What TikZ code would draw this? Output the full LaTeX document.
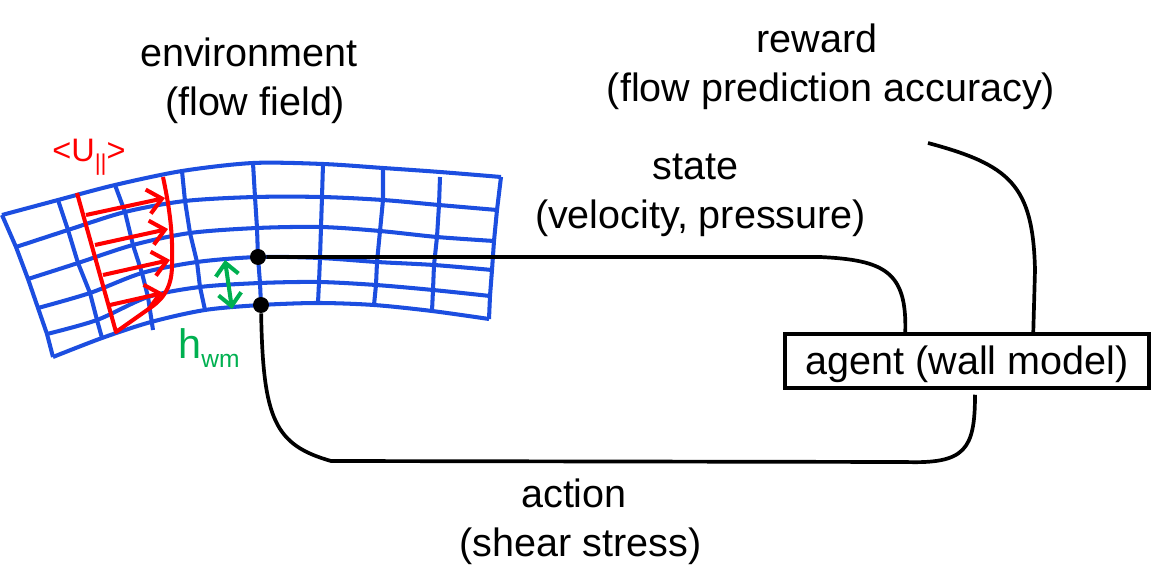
\documentclass[tikz,border=0pt]{standalone}
\usepackage{fontspec}
\setmainfont{Liberation Sans}
\usetikzlibrary{arrows.meta,calc}
\definecolor{gridcol}{RGB}{28,78,224}
\definecolor{profcol}{RGB}{255,0,0}
\definecolor{wmcol}{RGB}{0,176,80}

\begin{document}
\begin{tikzpicture}[
    x=0.02cm, y=-0.02cm,
    lab/.style={font=\fontsize{22.5}{27.8}\selectfont, align=center, inner sep=0pt},
    gridline/.style={draw=gridcol, line width=2.3pt, line join=round},
    profline/.style={draw=profcol, line width=2.3pt, line join=round},
    profarrow/.style={profline, -{Straight Barb[length=8pt,width=14pt,line width=2.3pt]}},
    wmarrow/.style={draw=wmcol, line width=2.3pt, {Straight Barb[length=7pt,width=13pt,line width=2.3pt]}-{Straight Barb[length=7pt,width=13pt,line width=2.3pt]}},
    wire/.style={draw=black, line width=2.1pt},
    agentbox/.style={draw=black, line width=2pt, fill=white, minimum width=7.28cm,
                     minimum height=1.08cm, inner sep=0pt, text height=0.6cm, text depth=0.04cm,
                     font=\fontsize{22.5}{27}\selectfont},
    wdot/.style={circle, fill=black, minimum size=0.32cm, inner sep=0pt},
]
\useasboundingbox (0,0) rectangle (1153,587);

% ---- Grid ----
\draw[gridline] plot[smooth] coordinates {(2,215) (58,200) (115,185) (182,171) (253,163) (323,164) (383,168) (440,172) (501,177)};
\draw[gridline] plot[smooth] coordinates {(16,247) (68,230) (125,212) (185,201) (255,197) (322,197) (383,200) (439,205) (497,210)};
\draw[gridline] plot[smooth] coordinates {(28,279) (78,263) (133,245) (190,233) (257,228) (321,227) (380,231) (437,237) (494,241)};
\draw[gridline] plot[smooth] coordinates {(38,308) (90,293) (142,273) (197,262) (258,257) (320,258) (377,262) (434,265) (492,270)};
\draw[gridline] plot[smooth] coordinates {(47,334) (97,320) (148,297) (200,287) (260,283) (319,282) (376,285) (433,290) (490,296)};
\draw[gridline] plot[smooth] coordinates {(53,357) (102,338) (151,322) (205,310) (261,305) (318,303) (374,305) (432,311) (489,319)};

\draw[gridline] (2,215) -- (16,247) -- (28,279) -- (38,308) -- (47,334) -- (53,357);
\draw[gridline] (58,200) -- (68,230) -- (78,263) -- (90,293) -- (97,320) -- (102,338);
\draw[gridline] (115,185) -- (125,212) -- (133,245) -- (142,273) -- (148,297) -- (153,330);
\draw[gridline] (182,171) -- (185,201) -- (190,233) -- (197,262) -- (200,287) -- (205,310);
\draw[gridline] (253,163) -- (255,197) -- (257,228) -- (258,257) -- (260,283) -- (261,305);
\draw[gridline] (323,164) -- (322,197) -- (321,227) -- (320,258) -- (319,282) -- (318,303);
\draw[gridline] (383,168) -- (383,200) -- (380,231) -- (377,262) -- (376,285) -- (374,305);
\draw[gridline] (440,177) -- (439,205) -- (437,237) -- (434,265) -- (433,290) -- (432,311);
\draw[gridline] (501,177) -- (497,210) -- (494,241) -- (492,270) -- (490,296) -- (489,319);

% ---- Velocity profile ----
\draw[profline] (77,193) -- (116,332) -- (150,308) .. controls (165,298) and (172,285) .. (172,265)
  .. controls (173,235) and (170,210) .. (163,177);
\draw[profarrow] (86,215) -- (165,198);
\draw[profarrow] (95,245) -- (168,229);
\draw[profarrow] (103,275) -- (170,260);
\draw[profarrow] (110,305) -- (163,293);
\node[lab, text=profcol, font=\fontsize{18.5}{20}\selectfont] (ulab) at (89,157)
  {<U\raisebox{-5pt}{\fontsize{13}{13}\selectfont ||}>};

% ---- Wall-model height ----
\draw[wmarrow] (225,260) -- (232,309);
\node[lab, text=wmcol, font=\fontsize{23.5}{28}\selectfont] (hlab) at (209,348)
  {h\raisebox{-5pt}{\fontsize{14}{14}\selectfont wm}};

% ---- Agent and loop ----
\node[agentbox] (agent) at (967,361) {agent (wall model)};
\node[wdot] (sdot) at (258,257) {};
\node[wdot] (adot) at (261,305) {};
\coordinate (rtip) at (928,143);

\draw[wire] (sdot) -- (820,257) .. controls (885,260) and (907,272) .. ($(agent.north west)+(122,0)$);
\draw[wire] ($(agent.north west)+(250,0)$) -- (1035,270) .. controls (1033,185) and (1010,165) .. (rtip);
\draw[wire] (adot) .. controls (263,420) and (275,445) .. (331,461) -- (905,462)
  .. controls (965,464) and (975,450) .. ($(agent.south)+(8,5)$);

% ---- Labels ----
\node[lab] (envlab) at (249,80.5) {environment\\\kern7pt(flow field)};
\node[lab] (rewlab) at (831,66.5) {reward\kern16pt\\(flow prediction accuracy)};
\node[lab] (statelab) at (700.5,195.5) {state\kern6pt\\(velocity, pressure)};
\node[lab] (actlab) at (580.5,521.5) {action\kern7.4pt\\(shear stress)};

\end{tikzpicture}
\end{document}
